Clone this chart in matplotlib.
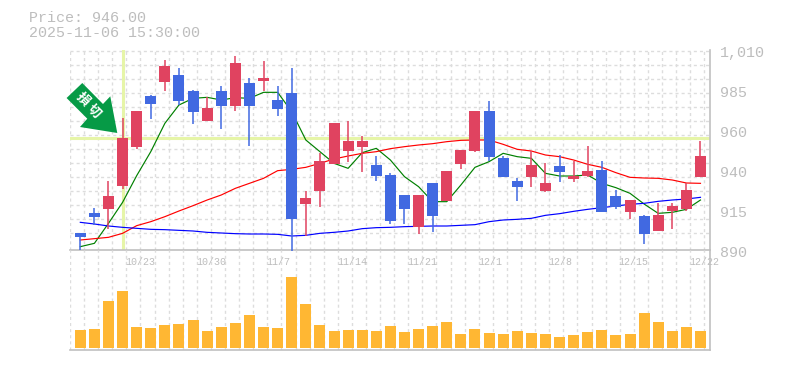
import matplotlib
matplotlib.use("Agg")
import matplotlib.pyplot as plt
from matplotlib.patches import Polygon
from matplotlib.transforms import Affine2D

opens = [900.2,912.2,914.6,928.4,951.8,982.4,990.8,995,985.4,967.4,985.4,976.4,990.2,991.4,980,984.2,917.6,925.4,941.6,949.4,951.8,941,935,923,903.8,930.2,919.4,941.6,949.4,973.4,945.2,931.4,933.8,925.4,940.4,932.6,934.4,938,922.4,912.8,910.4,901.4,913.4,914.6,933.8]
closes = [897.8,909.8,922.4,957.2,973.4,977.6,1000.4,979.4,972.8,975.2,976.4,1002.2,976.4,993.2,974.6,908.6,921.2,943.4,966.2,955.4,955.4,934.4,907.4,914.6,923,910.4,937.4,950,973.4,945.8,933.8,927.8,941,930.2,936.8,934.4,937.4,912.8,915.8,920,899.6,911,916.4,926,946.4]
highs = [900.2,915.2,931.4,969.2,973.4,983,1004,999.2,986,981.8,988.4,1006.4,993.2,1003.4,988.4,999.2,925.4,948.2,966.2,967.6,958.4,946.4,936.2,923,923,930.2,937.4,950,973.4,979.4,946.4,933.2,949.4,942.2,947,943.4,952.4,943.4,926,920,911,918.2,918.2,930.2,955.4]
lows = [890,905,902.6,926.6,950.6,968.6,985.4,977,965.6,967.4,962.6,973.4,952.4,985.4,970.4,889.4,898.4,915.8,941.6,942.8,936.8,931.4,905.6,905.6,899.6,900.8,919.4,938.6,948.8,943.4,933.8,919.4,927.8,924.8,930.8,930.8,933.8,912.8,914.6,908.6,893.6,901.4,902.6,913.4,933.8]
ma_short = [892,894,906,918.6,934.6,949,966,977,981,981.6,980,981.4,981,984.6,984.6,973,956,949,942,939,948.4,951,944,934,928,919,919,929,939.6,943,948,946,945,936,934.4,934.4,935,930,927.4,924,917.6,912,912.6,914.4,920]
ma_mid = [896,896.8,897.6,900,904.6,907,910,913.4,916.6,920,923,927,930,933,937.6,938.4,939.6,942,944.6,946.4,948,949,950.8,952,953,953.8,955,955.8,956,956,953.4,950.4,949.4,947,946,944,941.4,939.6,936.4,933.6,933.2,933,932,930.2,930]
ma_long = [906.6,905.6,904.4,903.6,903,902.4,902.2,901.8,901.4,900.6,900.2,899.8,899.6,899.6,899.4,898.4,898.8,900,900.6,901.4,902.8,903.4,903.6,904,904.2,904.4,904.4,904.8,905.2,907,908,908.4,909,910.8,911.8,913.2,914.4,915.4,916.4,917.4,918,919.2,920,920.6,921.6]
volumes = [18,19,47,57,21,20,23,24,28,17,21,25,33,21,20,71,44,23,17,18,18,17,22,16,19,22,26,14,19,15,14,17,15,14,11,13,16,18,13,14,35,26,17,21,17]
price_ticks = [1010,986,962,938,914,890]
price_labels = ["1,010","985","960","940","915","890"]
date_slots = [5,10,15,20,25,30,35,40,45]
date_labels = ["10/23","10/30","11/7","11/14","11/21","12/1","12/8","12/15","12/22"]
signal_index = 3
signal_chars = ["損","切"]
title_lines = ["Price: 946.00","2025-11-06 15:30:00"]

W, H = 785, 370
L, R, T, M, B = 70, 710, 50, 250, 350
UP, DOWN = "#e04360", "#4169e1"
GRID, TXT, AXC, HILITE = "#dddddd", "#bdbdbd", "#c0c0c0", "#e6f5a8"
MONO = "Liberation Mono"
px = 0.72

plt.rcParams["font.family"] = [MONO, "Noto Sans CJK JP", "DejaVu Sans"]
fig = plt.figure(figsize=(W/100, H/100), dpi=100, facecolor="white")
ax = fig.add_axes([L/W, 1-M/H, (R-L)/W, (M-T)/H])
vax = fig.add_axes([L/W, 1-B/H, (R-L)/W, (B-M)/H], sharex=ax)

step = 14.095
xmin = (L - 80.3)/step
xmax = (R - 80.3)/step
ax.set_xlim(xmin, xmax)
ax.set_ylim(890, 1010)
vax.set_ylim(-2, 98)

slots = [xmin + k for k in range(46)]
for a in (ax, vax):
    a.set_xticks([]); a.set_yticks([])
    a.patch.set_alpha(0)
    for s in a.spines.values():
        s.set_visible(False)
    for x in slots:
        a.axvline(x, color=GRID, lw=1.0, ls=(0, (2.2, 2.2)), zorder=0)
for r in range(14):
    ax.axhline(1010 - (0.5 + 14*r)*0.6, color=GRID, lw=1.0, ls=(0, (2.2, 2.2)), zorder=0)

ax.axvline(signal_index, color=HILITE, lw=2.2, zorder=1)
ax.axhline(closes[signal_index], color=HILITE, lw=2.2, zorder=1)

xs = list(range(len(opens)))
ax.plot(xs, ma_short, color="#008000", lw=0.85, zorder=2, clip_on=False)
ax.plot(xs, ma_mid, color="#ff0000", lw=0.85, zorder=2, clip_on=False)
ax.plot(xs, ma_long, color="#0000ff", lw=0.85, zorder=2, clip_on=False)

for i, (o, c, h, l) in enumerate(zip(opens, closes, highs, lows)):
    col = UP if c >= o else DOWN
    ax.vlines(i, l, h, color=col, lw=1.1, zorder=3, clip_on=False)
    ax.bar(i, abs(c-o), bottom=min(o, c), width=11/step, color=col, lw=0, zorder=4)

vax.bar(xs, volumes, width=11/step, color="#ffb733", lw=0, zorder=3)

for a in (ax, vax):
    for side in ("bottom", "right"):
        a.spines[side].set_visible(True)
        a.spines[side].set_color(AXC)
        a.spines[side].set_linewidth(1.2)

for v, lab in zip(price_ticks, price_labels):
    ax.annotate(lab, xy=(1, v), xycoords=ax.get_yaxis_transform(), xytext=(10*px, -3*px),
                textcoords="offset points", ha="left", va="center", fontsize=15*px, color=TXT)
for k, lab in zip(date_slots, date_labels):
    vax.annotate(lab, xy=(slots[k], 1), xycoords=vax.get_xaxis_transform(), xytext=(-15*px, -12*px),
                 textcoords="offset points", ha="left", va="center", fontsize=10*px, color=TXT,
                 annotation_clip=False)

fig.text(29/W, 1-18/H, title_lines[0], ha="left", va="center", fontsize=15*px, color=TXT)
fig.text(29/W, 1-33/H, title_lines[1], ha="left", va="center", fontsize=15*px, color=TXT)

arrow_px = [(-40.3,-55),(-56,-40),(-35.3,-19.3),(-42.6,-11),(-5.3,-5),(-12.3,-41.7),(-19.6,-34)]
anchor = ax.transData.transform((signal_index, closes[signal_index]))
tr = Affine2D().scale(1, -1).translate(anchor[0], anchor[1])
ax.add_patch(Polygon(arrow_px, closed=True, transform=tr, facecolor="#069a46", edgecolor="none", zorder=6, clip_on=False))
for ch, (dx, dy) in zip(signal_chars, [(-39.6, 39.3), (-28.6, 27)]):
    ax.text(anchor[0]+dx, anchor[1]+dy, ch, transform=Affine2D(), rotation=-45, rotation_mode="anchor",
            ha="center", va="center", fontsize=9.5, fontweight="bold", color="white", zorder=7,
            family="Noto Sans CJK JP")

fig.savefig("out.png", dpi=100)
